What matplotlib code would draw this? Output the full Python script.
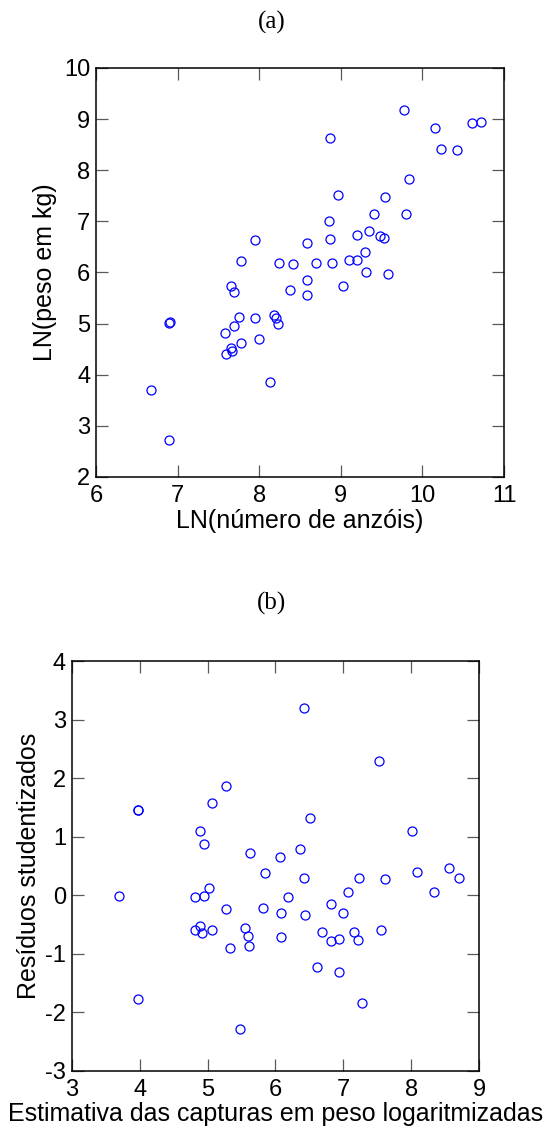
import matplotlib.pyplot as plt

# (a) LN(numero de anzois) vs LN(peso em kg)
ln_anzois = [6.68, 6.90, 6.90, 6.91, 7.59, 7.67, 7.65, 7.78, 8.00, 7.58,
             7.69, 8.23, 8.21, 8.18, 7.95, 7.75, 8.13, 8.59, 8.59, 8.38,
             7.69, 7.65, 7.78, 8.24, 8.42, 8.69, 7.95, 8.59, 8.87, 9.20,
             9.35, 9.48, 9.53, 9.30, 8.89, 9.10, 9.20, 9.31, 9.58, 9.03,
             8.86, 9.41, 9.80, 8.96, 9.54, 9.84, 8.87, 10.23, 10.43, 10.16,
             10.61, 10.72, 9.77]
ln_peso = [3.70, 2.72, 5.02, 5.03, 4.40, 4.46, 4.53, 4.62, 4.69, 4.81,
           4.96, 4.99, 5.10, 5.16, 5.11, 5.12, 3.86, 5.55, 5.85, 5.66,
           5.62, 5.73, 6.22, 6.18, 6.16, 6.18, 6.64, 6.58, 6.65, 6.73,
           6.81, 6.72, 6.67, 6.40, 6.19, 6.24, 6.25, 6.00, 5.98, 5.73,
           7.00, 7.14, 7.14, 7.51, 7.48, 7.83, 8.63, 8.41, 8.40, 8.83,
           8.92, 8.94, 9.18]

# (b) fitted values vs studentized residuals
estimativa = [3.97, 3.97, 4.89, 4.95, 5.06, 5.27, 5.62, 5.85, 6.06, 6.36,
              6.42, 7.52, 6.51, 8.01, 6.42, 7.23, 7.61, 8.09, 8.56, 8.70,
              8.33, 6.19, 7.07, 6.08, 6.43, 6.82, 7.00, 6.08, 6.69, 6.82,
              6.94, 7.16, 7.22, 7.56, 6.61, 6.94, 7.28, 3.70, 3.97, 4.81,
              4.95, 5.02, 5.27, 4.89, 4.82, 4.92, 5.06, 5.33, 5.55, 5.59,
              5.61, 5.48, 5.81]
residuos = [1.45, 1.46, 1.10, 0.88, 1.57, 1.87, 0.72, 0.38, 0.65, 0.79,
            3.19, 2.30, 1.31, 1.09, 0.30, 0.30, 0.28, 0.40, 0.46, 0.29,
            0.05, -0.04, 0.06, -0.30, -0.34, -0.15, -0.30, -0.71, -0.63, -0.79,
            -0.75, -0.63, -0.76, -0.60, -1.22, -1.31, -1.84, -0.01, -1.78, -0.03,
            -0.01, 0.12, -0.24, -0.52, -0.60, -0.64, -0.60, -0.90, -0.56, -0.69,
            -0.87, -2.29, -0.22]

plt.rcParams['font.family'] = ['Liberation Sans', 'DejaVu Sans']
plt.rcParams['axes.unicode_minus'] = False

fig = plt.figure(figsize=(5.43, 11.37), dpi=100)


def style_axes(ax):
    ax.tick_params(direction='in', length=8.5, width=0.9, color='0.35',
                   top=True, right=True, labelsize=17)
    ax.tick_params(axis='x', pad=6)
    ax.tick_params(axis='y', pad=4)
    for s in ax.spines.values():
        s.set_linewidth(1.1)
        s.set_color('black')


ax1 = fig.add_axes([0.1768, 0.5805, 0.7514, 0.3597])
ax1.plot(ln_anzois, ln_peso, 'o', mfc='none', mec='blue', ms=6.5, mew=0.9)
ax1.set_xlim(6, 11)
ax1.set_ylim(2, 10)
ax1.set_xticks(range(6, 12))
ax1.set_yticks(range(2, 11))
ax1.set_xlabel('LN(número de anzóis)', fontsize=18, labelpad=1)
ax1.set_ylabel('LN(peso em kg)', fontsize=18, labelpad=5)
style_axes(ax1)

ax2 = fig.add_axes([0.132, 0.0583, 0.7507, 0.3603])
ax2.plot(estimativa, residuos, 'o', mfc='none', mec='blue', ms=6.5, mew=0.9)
ax2.set_xlim(3, 9)
ax2.set_ylim(-3, 4)
ax2.set_xticks(range(3, 10))
ax2.set_yticks(range(-3, 5))
ax2.set_xlabel('Estimativa das capturas em peso logaritmizadas', fontsize=18, labelpad=1)
ax2.set_ylabel('Resíduos studentizados', fontsize=18, labelpad=3)
style_axes(ax2)

fig.text(0.5, 1 - 22 / 1137, '(a)', ha='center', va='center',
         family='Liberation Serif', fontsize=18)
fig.text(0.5, 1 - 603 / 1137, '(b)', ha='center', va='center',
         family='Liberation Serif', fontsize=18)

fig.savefig('out.png', dpi=100)
